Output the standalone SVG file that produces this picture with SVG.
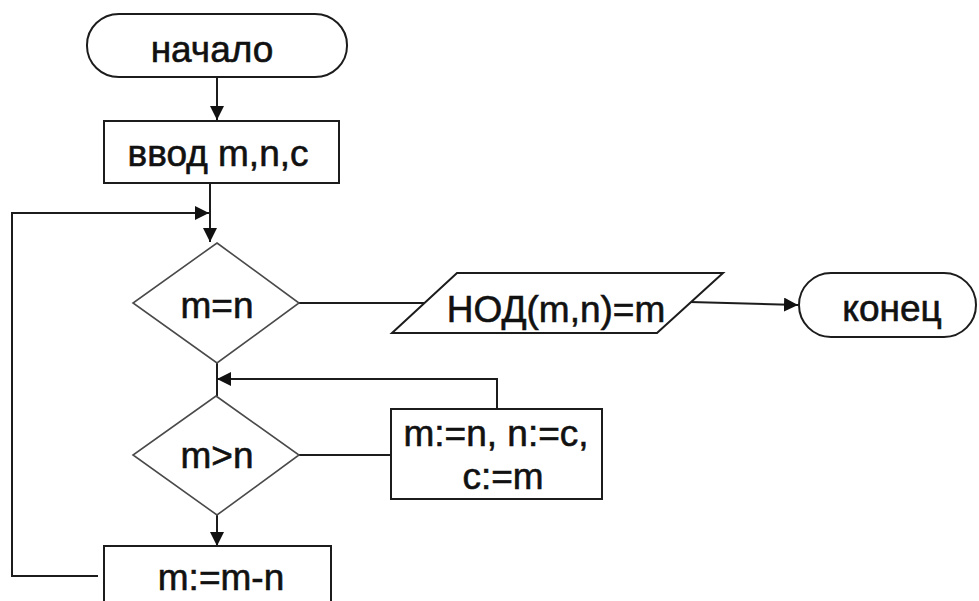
<svg xmlns="http://www.w3.org/2000/svg" width="979" height="601" viewBox="0 0 979 601">
  <style>
    .shape { fill: #ffffff; stroke: #1c1c1c; stroke-width: 2; }
    .decision { fill: #ffffff; stroke: #4a4a4a; stroke-width: 1.6; }
    .wire { fill: none; stroke: #1c1c1c; stroke-width: 2; }
    .label { font-family: "Liberation Sans", Arial, sans-serif; font-size: 37px; fill: #111111; stroke: #111111; stroke-width: 0.6; text-anchor: middle; }
  </style>
  <defs>
    <marker id="arrow" markerUnits="userSpaceOnUse" markerWidth="15" markerHeight="14" refX="14" refY="7" orient="auto">
      <path d="M0,0 L14,7 L0,14 z" fill="#111111"/>
    </marker>
  </defs>
  <rect width="979" height="601" fill="#ffffff"/>

  <!-- connectors -->
  <g id="connectors">
    <line class="wire" x1="217" y1="77" x2="217" y2="120" marker-end="url(#arrow)"/>
    <line class="wire" x1="210" y1="183" x2="210" y2="242" marker-end="url(#arrow)"/>
    <polyline class="wire" points="98,576 12,576 12,213 209,213" marker-end="url(#arrow)"/>
    <line class="wire" x1="299" y1="303" x2="424" y2="303"/>
    <line class="wire" x1="690" y1="302" x2="798" y2="305" marker-end="url(#arrow)"/>
    <line class="wire" x1="217" y1="363" x2="217" y2="396"/>
    <polyline class="wire" points="497,409 497,379 217,379" marker-end="url(#arrow)"/>
    <line class="wire" x1="299" y1="455" x2="391" y2="455"/>
    <line class="wire" x1="217" y1="515" x2="217" y2="546" marker-end="url(#arrow)"/>
  </g>

  <g id="start">
    <rect class="shape" x="87" y="14" width="260" height="63" rx="32" ry="31"/>
    <text class="label" x="212" y="62">начало</text>
  </g>

  <g id="input">
    <rect class="shape" x="104" y="121" width="235" height="62"/>
    <text class="label" x="218" y="166">ввод m,n,c</text>
  </g>

  <g id="check-equal">
    <polygon class="decision" points="217,243 299,303 217,363 133,303"/>
    <text class="label" x="217" y="318">m=n</text>
  </g>

  <g id="output">
    <polygon class="shape" points="457,273 723,273 657,333 392,333"/>
    <text class="label" x="556" y="322">НОД(m,n)=m</text>
  </g>

  <g id="end">
    <rect class="shape" x="799" y="273" width="177" height="64" rx="32" ry="32"/>
    <text class="label" x="892" y="321">конец</text>
  </g>

  <g id="check-greater">
    <polygon class="decision" points="216,396 299,455 217,515 133,455"/>
    <text class="label" x="217" y="468">m&gt;n</text>
  </g>

  <g id="swap">
    <rect class="shape" x="391" y="409" width="211" height="90"/>
    <text class="label" x="496" y="446">m:=n, n:=c,</text>
    <text class="label" x="503" y="489">c:=m</text>
  </g>

  <g id="subtract">
    <rect class="shape" x="104" y="546" width="227" height="70"/>
    <text class="label" x="221" y="590">m:=m-n</text>
  </g>
</svg>
